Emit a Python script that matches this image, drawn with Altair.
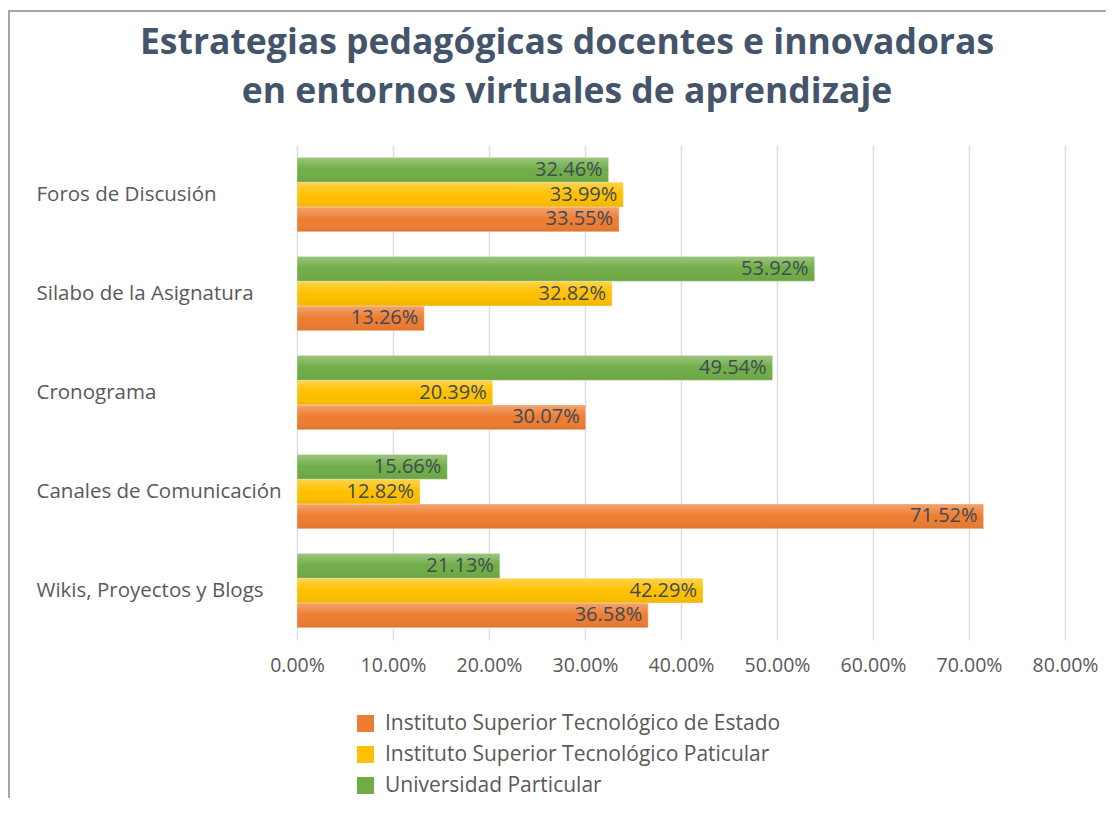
import altair as alt
import pandas as pd

categories = ["Foros de Discusión", "Silabo de la Asignatura", "Cronograma",
              "Canales de Comunicación", "Wikis, Proyectos y Blogs"]
series = ["Instituto Superior Tecnológico de Estado",
          "Instituto Superior Tecnológico Paticular",
          "Universidad Particular"]
estado = [33.55, 13.26, 30.07, 71.52, 36.58]
paticular = [33.99, 32.82, 20.39, 12.82, 42.29]
universidad = [32.46, 53.92, 49.54, 15.66, 21.13]
x_ticks = [0, 10, 20, 30, 40, 50, 60, 70, 80]
colors = ["#ED7D31", "#FFC000", "#70AD47"]
title_lines = ["Estrategias pedagógicas docentes e innovadoras",
               "en entornos virtuales de aprendizaje"]

rows = []
for s, vals in zip(series, [estado, paticular, universidad]):
    for c, v in zip(categories, vals):
        rows.append({"cat": c, "serie": s, "val": v, "lab": f"{v:.2f}%"})
df = pd.DataFrame(rows)

W, H = 768, 495
FONT = "Open Sans"

y_enc = alt.Y("cat:N", sort=categories, title=None,
              scale=alt.Scale(paddingInner=0.25, paddingOuter=0.125),
              axis=alt.Axis(labelAlign="left", labelPadding=261, ticks=False, domain=False,
                            labelLimit=320, labelFontSize=20.5, labelColor="#595959",
                            labelFont=FONT, grid=False))
yoff = alt.YOffset("serie:N", sort=list(reversed(series)))
x_enc = alt.X("val:Q", title=None,
              scale=alt.Scale(domain=[0, 80], nice=False),
              axis=alt.Axis(values=x_ticks, labelExpr="format(datum.value, '.2f') + '%'",
                            labelFontSize=19.5, labelColor="#595959", labelFont=FONT,
                            labelPadding=16, ticks=False, domain=False, labelFlush=False,
                            labelOverlap=False,
                            grid=True, gridColor="#D9DEE8", gridWidth=1.5))

base = alt.Chart(df).encode(y=y_enc, yOffset=yoff)

bars = base.mark_bar(stroke="#ffffff", strokeOpacity=0.35, strokeWidth=1).encode(
    x=x_enc,
    color=alt.Color("serie:N", sort=series, scale=alt.Scale(domain=series, range=colors),
                    legend=alt.Legend(title=None, orient="none", legendX=58, legendY=568,
                                      symbolType="square", symbolSize=289, symbolStrokeWidth=0,
                                      labelFontSize=21, labelColor="#595959", labelFont=FONT,
                                      labelOffset=9, rowPadding=9, labelLimit=500)),
)

sheen = base.mark_bar(
    color=alt.Gradient(
        gradient="linear", x1=0, y1=0, x2=0, y2=1,
        stops=[alt.GradientStop(offset=0, color="rgba(255,255,255,0.30)"),
               alt.GradientStop(offset=0.5, color="rgba(255,255,255,0.0)"),
               alt.GradientStop(offset=1, color="rgba(0,0,0,0.06)")]
    )
).encode(x="val:Q")

labels = base.mark_text(align="right", baseline="middle", dx=-6, fontSize=20,
                        font=FONT, color="#404A56").encode(x="val:Q", text="lab:N")

frame = alt.Chart(pd.DataFrame({"k": [0]})).mark_rect(
    fill=None, stroke="#A6A6A6", strokeWidth=2
).encode(x=alt.value(-288), x2=alt.value(W + 80), y=alt.value(-134), y2=alt.value(H + 200))

tdf = pd.DataFrame({"t": title_lines, "i": [0, 1]})
title_layers = []
for i, yy in enumerate([-102, -53]):
    title_layers.append(
        alt.Chart(tdf).transform_filter(alt.datum.i == i).mark_text(
            font=FONT, fontSize=35.5, fontWeight="bold", color="#44546A",
            align="center", baseline="middle"
        ).encode(text="t:N", x=alt.value(270), y=alt.value(yy))
    )

chart = alt.layer(frame, bars, sheen, labels, *title_layers).properties(
    width=W, height=H,
    autosize=alt.AutoSizeParams(type="none"),
    padding={"left": 289, "top": 137, "right": 41, "bottom": 158},
).configure_view(stroke=None)

chart.save("out.html", embed_options={"renderer": "svg", "actions": False})
